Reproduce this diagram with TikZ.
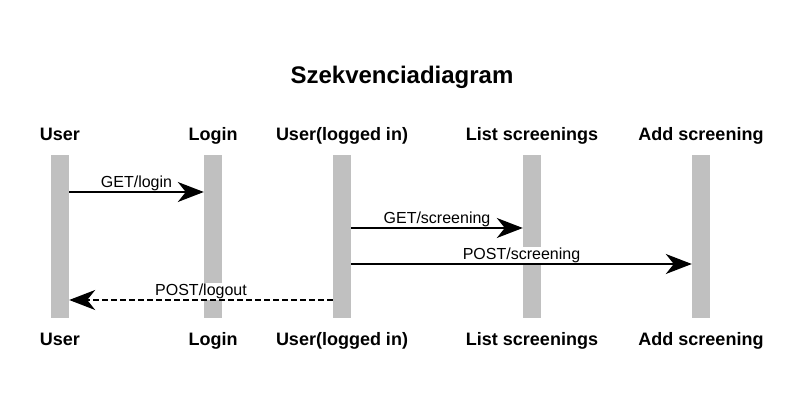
\documentclass[tikz,border=0pt]{standalone}
\usepackage{fontspec}
\setmainfont{Liberation Sans}
\usepackage{tikz}
\usetikzlibrary{arrows.meta, positioning}
\definecolor{lifebg}{HTML}{C0C0C0}

\begin{document}
\begin{tikzpicture}[
  x=1pt, y=-1pt,
  lifeline/.style={fill=lifebg, draw=none, minimum width=18pt,
    minimum height=163pt, inner sep=0pt},
  head/.style={font=\fontsize{18}{20}\selectfont\bfseries, inner sep=0pt, anchor=base},
  msg/.style={-{Stealth[length=26pt, width=20pt, inset=8pt]}, line width=1.6pt},
  reply/.style={msg, dash pattern=on 6pt off 3pt},
  msglabel/.style={font=\fontsize{16}{18}\selectfont, fill=white, inner sep=1pt,
    behind path, anchor=base, yshift=4pt},
]
\useasboundingbox (0,0) rectangle (806,419);

% Title
\node[font=\fontsize{24}{28}\selectfont\bfseries, anchor=base] (title) at (402,84) {Szekvenciadiagram};

% Lifelines
\node[lifeline] (user) at (60,236.5) {};
\node[lifeline] (login) at (213,236.5) {};
\node[lifeline] (uli) at (342,236.5) {};
\node[lifeline] (list) at (532,236.5) {};
\node[lifeline] (add) at (701,236.5) {};

% Heads on top
\node[head, above=14pt of user.north, anchor=base] (userT) {User};
\node[head, above=14pt of login.north, anchor=base] (loginT) {Login};
\node[head, above=14pt of uli.north, anchor=base] (uliT) {User(logged in)};
\node[head, above=14pt of list.north, anchor=base] (listT) {List screenings};
\node[head, above=14pt of add.north, anchor=base] (addT) {Add screening};

% Heads below
\node[head, below=27pt of user.south, anchor=base] (userB) {User};
\node[head, below=27pt of login.south, anchor=base] (loginB) {Login};
\node[head, below=27pt of uli.south, anchor=base] (uliB) {User(logged in)};
\node[head, below=27pt of list.south, anchor=base] (listB) {List screenings};
\node[head, below=27pt of add.south, anchor=base] (addB) {Add screening};

% Messages
\draw[msg] (user.east |- 0,192) -- (login.west |- 0,192)
  node[msglabel, midway] (m1) {GET/login};
\draw[msg] (uli.east |- 0,228) -- (list.west |- 0,228)
  node[msglabel, midway] (m2) {GET/screening};
\draw[msg] (uli.east |- 0,264) -- (add.west |- 0,264)
  node[msglabel, midway] (m3) {POST/screening};
\draw[reply] (uli.west |- 0,300) -- (user.east |- 0,300)
  node[msglabel, midway] (m4) {POST/logout};

\end{tikzpicture}
\end{document}
